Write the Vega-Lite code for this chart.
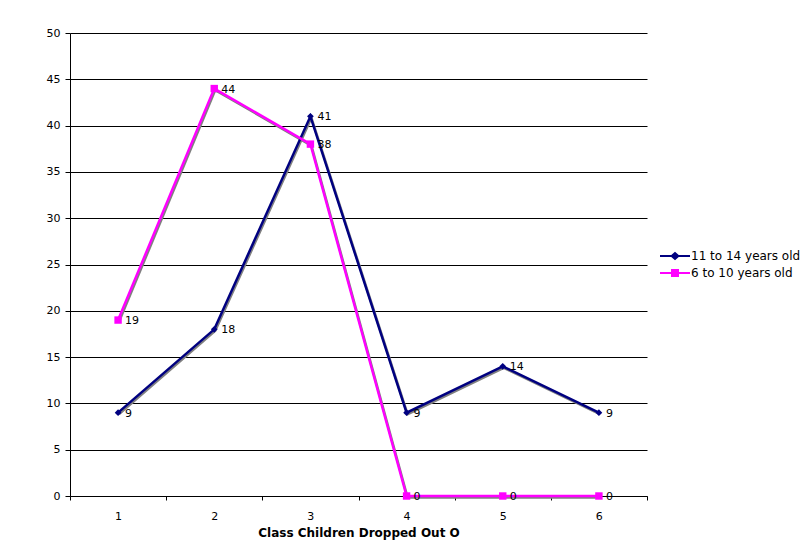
{
  "$schema": "https://vega.github.io/schema/vega-lite/v6.json",
  "width": 577,
  "height": 463,
  "autosize": {"type": "none"},
  "padding": {"left": 70, "top": 33, "right": 154, "bottom": 60},
  "background": "white",
  "config": {"view": {"stroke": null}, "font": "DejaVu Sans"},
  "data": {
    "values": [
      {"class": 1, "series": "11 to 14 years old", "value": 9},
      {"class": 2, "series": "11 to 14 years old", "value": 18},
      {"class": 3, "series": "11 to 14 years old", "value": 41},
      {"class": 4, "series": "11 to 14 years old", "value": 9},
      {"class": 5, "series": "11 to 14 years old", "value": 14},
      {"class": 6, "series": "11 to 14 years old", "value": 9},
      {"class": 1, "series": "6 to 10 years old", "value": 19},
      {"class": 2, "series": "6 to 10 years old", "value": 44},
      {"class": 3, "series": "6 to 10 years old", "value": 38},
      {"class": 4, "series": "6 to 10 years old", "value": 0},
      {"class": 5, "series": "6 to 10 years old", "value": 0},
      {"class": 6, "series": "6 to 10 years old", "value": 0}
    ]
  },
  "encoding": {
    "x": {
      "field": "class",
      "type": "quantitative",
      "scale": {"domain": [0.5, 6.5], "nice": false, "zero": false},
      "axis": {
        "values": [0.5, 1.5, 2.5, 3.5, 4.5, 5.5, 6.5],
        "labelExpr": "datum.value < 6 ? format(datum.value + 0.5, 'd') : ''",
        "labelOffset": 48,
        "labelBound": false,
        "labelOverlap": false,
        "labelFlush": false,
        "grid": false,
        "tickSize": 4,
        "tickColor": "black",
        "domainColor": "black",
        "labelPadding": 10,
        "labelFontSize": 11,
        "labelColor": "black",
        "title": "Class Children Dropped Out O",
        "titleFontSize": 12,
        "titleFontWeight": "bold",
        "titleColor": "black",
        "titlePadding": 6
      }
    },
    "y": {
      "field": "value",
      "type": "quantitative",
      "scale": {"domain": [0, 50], "nice": false},
      "axis": {
        "values": [0, 5, 10, 15, 20, 25, 30, 35, 40, 45, 50],
        "grid": true,
        "gridColor": "black",
        "gridOpacity": 1,
        "gridWidth": 1,
        "tickSize": 5,
        "tickColor": "black",
        "domainColor": "black",
        "labelPadding": 5,
        "labelFontSize": 11,
        "labelColor": "black",
        "title": null
      }
    }
  },
  "layer": [
    {
      "mark": {"type": "line", "color": "#808080", "strokeWidth": 2.5},
      "encoding": {
        "detail": {"field": "series", "type": "nominal"},
        "yOffset": {"value": 1.5},
        "xOffset": {"value": 1}
      }
    },
    {
      "mark": {"type": "line", "strokeWidth": 2.5},
      "encoding": {
        "color": {
          "field": "series",
          "type": "nominal",
          "scale": {"domain": ["11 to 14 years old", "6 to 10 years old"], "range": ["#000080", "#FF00FF"]},
          "legend": {
            "orient": "none",
            "legendX": 599,
            "legendY": 217,
            "padding": 0,
            "title": null,
            "labelFontSize": 12,
            "labelColor": "black",
            "symbolSize": 100,
            "symbolStrokeWidth": 0,
            "rowPadding": 5,
            "labelOffset": 10,
            "encode": {
              "symbols": {
                "update": {
                  "shape": {"signal": "datum.value === '11 to 14 years old' ? 'M-3,-0.2L-0.75,-0.2L0,-0.85L0.75,-0.2L3,-0.2L3,0.2L0.75,0.2L0,0.85L-0.75,0.2L-3,0.2Z' : 'M-3,-0.2L-0.8,-0.2L-0.8,-0.8L0.8,-0.8L0.8,-0.2L3,-0.2L3,0.2L0.8,0.2L0.8,0.8L-0.8,0.8L-0.8,0.2L-3,0.2Z'"},
                  "fill": {"scale": "color", "field": "value"},
                  "fillOpacity": {"value": 1},
                  "strokeWidth": {"value": 0}
                }
              }
            }
          }
        }
      }
    },
    {
      "transform": [{"filter": "datum.series === '11 to 14 years old'"}],
      "mark": {"type": "point", "shape": "diamond", "size": 45, "filled": true, "opacity": 1, "strokeWidth": 0, "fill": "#000080"}
    },
    {
      "transform": [{"filter": "datum.series === '6 to 10 years old'"}],
      "mark": {"type": "point", "shape": "square", "size": 55, "filled": true, "opacity": 1, "strokeWidth": 0, "fill": "#FF00FF"}
    },
    {
      "mark": {"type": "text", "align": "left", "baseline": "middle", "dx": 7, "dy": 1, "fontSize": 11, "color": "black"},
      "encoding": {"text": {"field": "value", "type": "quantitative"}}
    }
  ]
}
